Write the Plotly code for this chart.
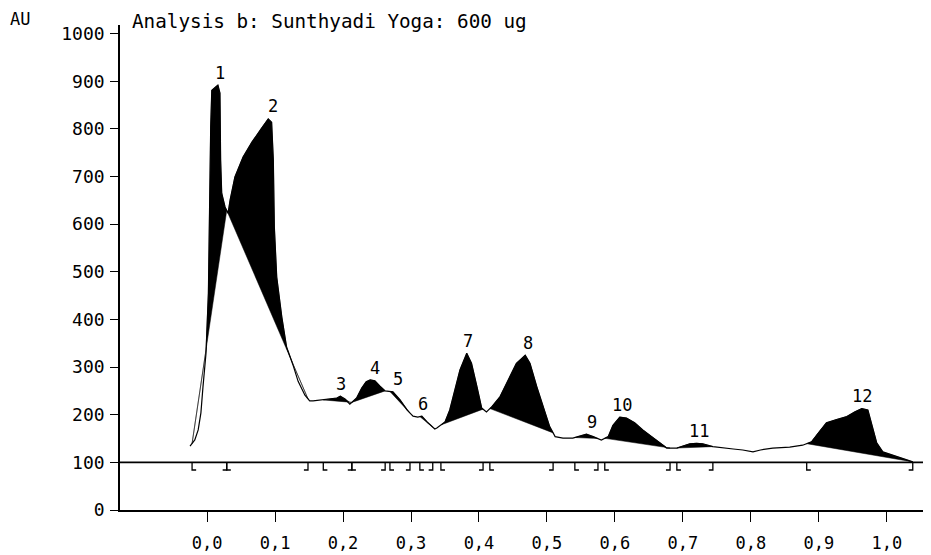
import numpy as np
import plotly.graph_objects as go

# ---------------- data ----------------
rf = [-0.025, -0.018, -0.013, -0.009, -0.006, -0.0015, 0.002, 0.0034, 0.0054, 0.007,
      0.012, 0.016, 0.019, 0.020, 0.0216, 0.0265, 0.031, 0.034, 0.041, 0.053,
      0.066, 0.080, 0.090, 0.095, 0.0975, 0.099, 0.1025, 0.110, 0.117, 0.127,
      0.134, 0.144, 0.151, 0.156, 0.171, 0.181, 0.191, 0.196, 0.203, 0.210,
      0.220, 0.2275, 0.234, 0.240, 0.247, 0.2545, 0.262, 0.2735, 0.284, 0.294,
      0.303, 0.310, 0.316, 0.325, 0.335, 0.338, 0.350, 0.357, 0.365, 0.372,
      0.382, 0.389, 0.397, 0.404, 0.411, 0.419, 0.431, 0.446, 0.455, 0.468,
      0.475, 0.485, 0.4945, 0.504, 0.512, 0.5235, 0.538, 0.5485, 0.558, 0.568,
      0.580, 0.590, 0.597, 0.607, 0.617, 0.629, 0.641, 0.654, 0.666, 0.676,
      0.691, 0.700, 0.710, 0.720, 0.729, 0.744, 0.759, 0.774, 0.788, 0.803,
      0.814, 0.832, 0.857, 0.876, 0.889, 0.899, 0.911, 0.926, 0.941, 0.953,
      0.963, 0.972, 0.979, 0.985, 0.994, 1.009, 1.024, 1.038]
au = [134, 147, 168, 204, 258, 329, 455, 644, 804, 881,
      888, 892, 875, 735, 665, 636, 623, 651, 699, 741,
      772, 802, 821, 814, 735, 594, 489, 405, 342, 302,
      270, 241, 229, 229, 231, 233, 235, 239, 233, 222,
      235, 256, 269, 273, 271, 260, 250, 248, 231, 210,
      197, 195, 197, 183, 170, 172, 185, 210, 252, 294,
      329, 308, 259, 214, 206, 217, 238, 280, 308, 325,
      308, 259, 217, 175, 154, 151, 151, 155, 159, 154,
      147, 154, 178, 195, 193, 183, 168, 154, 141, 130,
      130, 134, 139, 140, 139, 133, 130, 128, 126, 122,
      126, 130, 132, 136, 143, 162, 183, 190, 196, 206,
      213, 210, 175, 141, 122, 115, 109, 101]

peak_names = ["1", "2", "3", "4", "5", "6", "7", "8", "9", "10", "11", "12"]
peak_start = [-0.022, 0.029, 0.171, 0.213, 0.269, 0.313, 0.344, 0.416, 0.541, 0.585, 0.691, 0.882]
peak_end = [0.029, 0.1485, 0.213, 0.262, 0.2985, 0.332, 0.406, 0.509, 0.575, 0.681, 0.744, 1.038]
label_x = [0.019, 0.097, 0.197, 0.247, 0.281, 0.318, 0.384, 0.472, 0.566, 0.610, 0.724, 0.963]
label_y = [893, 822, 239, 273, 250, 197, 330, 326, 160, 196, 141, 214]

x_ticks = [0.0, 0.1, 0.2, 0.3, 0.4, 0.5, 0.6, 0.7, 0.8, 0.9, 1.0]
x_ticktext = ["0,0", "0,1", "0,2", "0,3", "0,4", "0,5", "0,6", "0,7", "0,8", "0,9", "1,0"]
y_ticks = [0, 100, 200, 300, 400, 500, 600, 700, 800, 900, 1000]
baseline_level = 100

title_text = "Analysis b: Sunthyadi Yoga: 600 ug"
unit_text = "AU"

# ---------------- figure ----------------
FONT = "DejaVu Sans Mono"
W, H = 931, 555
OFF = 8  # page body margin offset
ML, MR, MT, MB = 120 - OFF, 14, 25 - OFF, 53
x_range = [-0.128, 1.056]
y_range = [0, 1018]

rf_a = np.array(rf, dtype=float)
au_a = np.array(au, dtype=float)

fig = go.Figure()

# filled peak areas (between curve and peak baseline chord)
for s, e in zip(peak_start, peak_end):
    ys = float(np.interp(s, rf_a, au_a))
    ye = float(np.interp(e, rf_a, au_a))
    mask = (rf_a > s) & (rf_a < e)
    px = np.concatenate([[s], rf_a[mask], [e]])
    pc = np.concatenate([[ys], au_a[mask], [ye]])
    chord = ys + (px - s) * (ye - ys) / (e - s)
    upper = np.maximum(pc, chord)
    fig.add_trace(go.Scatter(
        x=np.concatenate([px, px[::-1]]),
        y=np.concatenate([upper, chord[::-1]]),
        fill="toself", fillcolor="black", mode="lines",
        line=dict(width=0.5, color="black"), hoverinfo="skip", showlegend=False))

# densitogram curve
fig.add_trace(go.Scatter(x=rf, y=au, mode="lines",
                         line=dict(color="black", width=1.2),
                         showlegend=False, hoverinfo="skip"))

# baseline at 100 AU
fig.add_hline(y=baseline_level, line=dict(color="black", width=1.6))

# peak start / end markers hanging below the baseline
mdepth = 16
foot = 0.006
mx, my = [], []
for s, e in zip(peak_start, peak_end):
    mx += [s, s, s + foot, None]
    my += [baseline_level, baseline_level - mdepth, baseline_level - mdepth, None]
    mx += [e, e, e - foot, None]
    my += [baseline_level, baseline_level - mdepth, baseline_level - mdepth, None]
fig.add_trace(go.Scatter(x=mx, y=my, mode="lines",
                         line=dict(color="black", width=1.3),
                         showlegend=False, hoverinfo="skip"))

# peak numbers
for name, lx, ly in zip(peak_names, label_x, label_y):
    fig.add_annotation(x=lx, y=ly, text=name, showarrow=False,
                       xanchor="center", yanchor="bottom", yshift=0,
                       font=dict(family=FONT, size=17, color="black"))

# title and unit
pw = W - ML - MR
ph = H - MT - MB
fig.add_annotation(xref="paper", yref="paper", x=(130 - 120) / pw, y=1 + (MT - 0.5) / ph,
                   text=title_text, showarrow=False, xanchor="left", yanchor="top",
                   font=dict(family=FONT, size=19.3, color="black"))
fig.add_annotation(xref="paper", yref="paper", x=(8 - 120) / pw, y=1 + (25 - 19) / ph,
                   text=unit_text, showarrow=False, xanchor="left", yanchor="middle",
                   font=dict(family=FONT, size=17, color="black"))

fig.update_layout(
    width=W, height=H, autosize=False,
    margin=dict(l=ML, r=MR, t=MT, b=MB, pad=0, autoexpand=False),
    paper_bgcolor="white", plot_bgcolor="white",
    showlegend=False,
    xaxis=dict(range=x_range, tickvals=x_ticks, ticktext=x_ticktext, automargin=False,
               showgrid=False, zeroline=False, showline=True, linecolor="black",
               linewidth=1.6, ticks="outside", ticklen=10, tickwidth=1.3,
               tickcolor="black", ticklabelstandoff=7,
               tickfont=dict(family=FONT, size=17, color="black")),
    yaxis=dict(range=y_range, tickvals=y_ticks, automargin=False,
               showgrid=False, zeroline=False, showline=True, linecolor="black",
               linewidth=1.6, ticks="outside", ticklen=8, tickwidth=1.3,
               tickcolor="black", ticklabelstandoff=2,
               tickfont=dict(family=FONT, size=18, color="black")),
)

fig.write_html("out.html")
